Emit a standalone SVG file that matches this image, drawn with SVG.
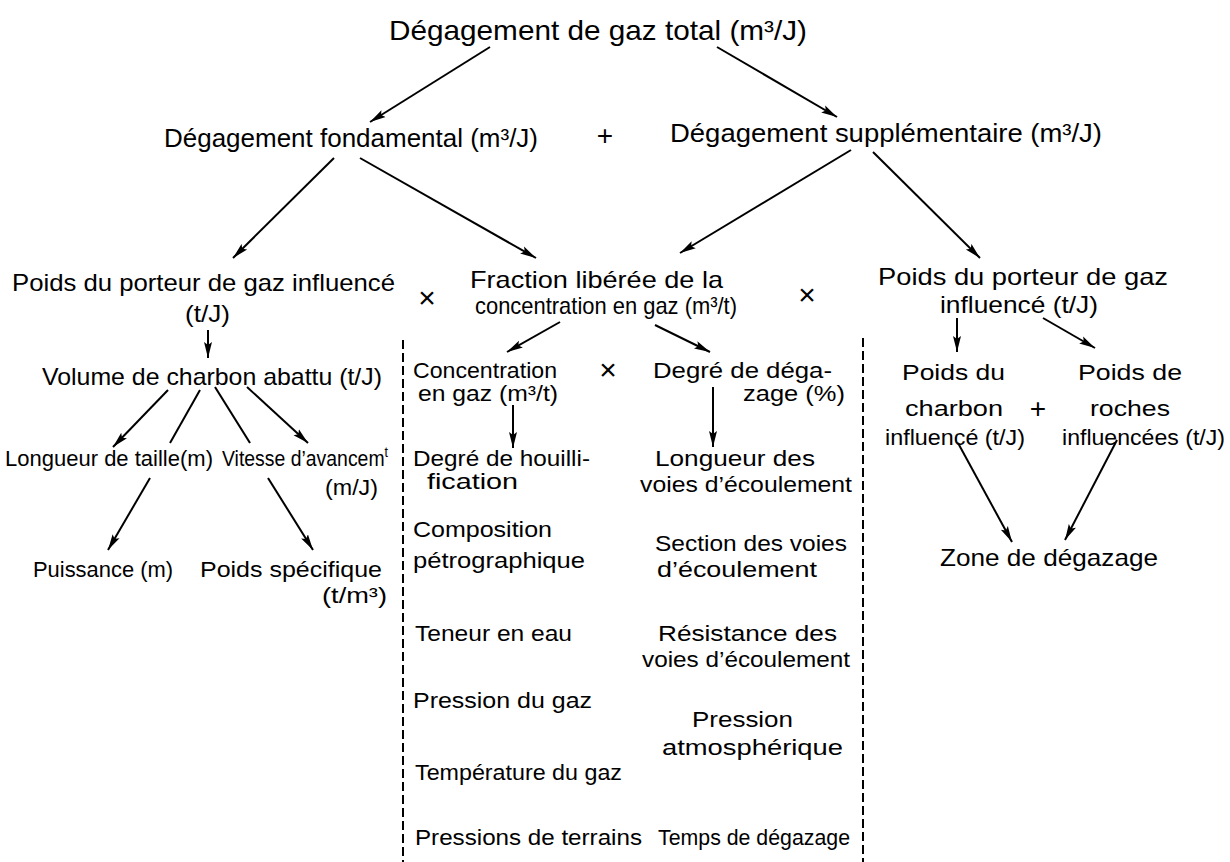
<svg xmlns="http://www.w3.org/2000/svg" width="1230" height="862" viewBox="0 0 1230 862">
<defs>
<style>
text{font-family:"Liberation Sans","DejaVu Sans",sans-serif;fill:#000}
.t0{font-size:28px}
.t1{font-size:26px}
.t2{font-size:24px}
.t3{font-size:22px}
.op{font-size:30px}
.c{stroke:#000;stroke-width:2;fill:none}
.a{marker-end:url(#ah)}
.d{stroke:#000;stroke-width:2;stroke-dasharray:9 4;fill:none}
</style>
<marker id="ah" markerUnits="userSpaceOnUse" markerWidth="18" markerHeight="10" refX="16" refY="5" orient="auto">
<path d="M0,1 L16,5 L0,9 L3,5 z" fill="#000"/>
</marker>
</defs>
<rect width="1230" height="862" fill="#fff"/>

<g id="connectors">
<line class="c a" x1="490" y1="47" x2="370" y2="122"/>
<line class="c a" x1="717" y1="47" x2="837" y2="117"/>
<line class="c a" x1="334" y1="158" x2="233" y2="258"/>
<line class="c a" x1="360" y1="158" x2="536" y2="258"/>
<line class="c a" x1="851" y1="150" x2="680" y2="253"/>
<line class="c a" x1="873" y1="152" x2="980" y2="258"/>
<line class="c a" x1="208" y1="330" x2="208" y2="358"/>
<line class="c a" x1="560" y1="322" x2="507" y2="352"/>
<line class="c a" x1="655" y1="325" x2="710" y2="352"/>
<line class="c a" x1="957" y1="318" x2="957" y2="352"/>
<line class="c a" x1="1043" y1="318" x2="1095" y2="348"/>
<line class="c a" x1="168" y1="390" x2="113" y2="447"/>
<line class="c" x1="200" y1="390" x2="170" y2="443"/>
<line class="c" x1="215" y1="387" x2="250" y2="443"/>
<line class="c a" x1="247" y1="387" x2="308" y2="443"/>
<line class="c a" x1="513" y1="405" x2="513" y2="448"/>
<line class="c a" x1="713" y1="387" x2="713" y2="447"/>
<line class="c a" x1="150" y1="478" x2="108" y2="550"/>
<line class="c a" x1="268" y1="478" x2="313" y2="550"/>
<line class="c a" x1="958" y1="443" x2="1012" y2="542"/>
<line class="c a" x1="1117" y1="440" x2="1065" y2="540"/>
<line class="d" x1="403" y1="340" x2="403" y2="862"/>
<line class="d" x1="863" y1="338" x2="863" y2="862"/>
</g>

<g id="n-total"><text class="t0" x="389" y="40" textLength="418" lengthAdjust="spacingAndGlyphs">Dégagement de gaz total (m³/J)</text></g>
<g id="n-fondamental"><text class="t1" x="164" y="147" textLength="374" lengthAdjust="spacingAndGlyphs">Dégagement fondamental (m³/J)</text></g>
<g id="op-plus1"><text class="t0" x="605" y="145" text-anchor="middle">+</text></g>
<g id="n-supplementaire"><text class="t1" x="670" y="142" textLength="432" lengthAdjust="spacingAndGlyphs">Dégagement supplémentaire (m³/J)</text></g>

<g id="n-poids1">
<text class="t2" x="12" y="291" textLength="383" lengthAdjust="spacingAndGlyphs">Poids du porteur de gaz influencé</text>
<text class="t2" x="185" y="322" textLength="45" lengthAdjust="spacingAndGlyphs">(t/J)</text>
</g>
<g id="op-x1"><text class="op" x="427" y="308" text-anchor="middle">×</text></g>
<g id="n-fraction">
<text class="t2" x="470" y="288" textLength="253" lengthAdjust="spacingAndGlyphs">Fraction libérée de la</text>
<text class="t2" x="475" y="314" textLength="262" lengthAdjust="spacingAndGlyphs">concentration en gaz (m³/t)</text>
</g>
<g id="op-x2"><text class="op" x="807" y="305" text-anchor="middle">×</text></g>
<g id="n-poids2">
<text class="t2" x="878" y="285" textLength="290" lengthAdjust="spacingAndGlyphs">Poids du porteur de gaz</text>
<text class="t2" x="940" y="313" textLength="158" lengthAdjust="spacingAndGlyphs">influencé (t/J)</text>
</g>

<g id="n-volume"><text class="t2" x="42" y="385" textLength="340" lengthAdjust="spacingAndGlyphs">Volume de charbon abattu (t/J)</text></g>
<g id="n-longueur"><text class="t3" x="5" y="466" textLength="208" lengthAdjust="spacingAndGlyphs">Longueur de taille(m)</text></g>
<g id="n-vitesse">
<text class="t3" x="222" y="466" textLength="166" lengthAdjust="spacingAndGlyphs">Vitesse d’avancem<tspan dy="-9" font-size="14">t</tspan></text>
<text class="t3" x="325" y="495" textLength="53" lengthAdjust="spacingAndGlyphs">(m/J)</text>
</g>
<g id="n-puissance"><text class="t3" x="33" y="577" textLength="140" lengthAdjust="spacingAndGlyphs">Puissance (m)</text></g>
<g id="n-poidsspec">
<text class="t3" x="200" y="577" textLength="182" lengthAdjust="spacingAndGlyphs">Poids spécifique</text>
<text class="t3" x="322" y="603" textLength="65" lengthAdjust="spacingAndGlyphs">(t/m³)</text>
</g>

<g id="n-concentration">
<text class="t3" x="413" y="378" textLength="144" lengthAdjust="spacingAndGlyphs">Concentration</text>
<text class="t3" x="418" y="401" textLength="140" lengthAdjust="spacingAndGlyphs">en gaz (m³/t)</text>
</g>
<g id="op-x3"><text class="op" x="608" y="380" text-anchor="middle">×</text></g>
<g id="n-degre">
<text class="t3" x="653" y="378" textLength="179" lengthAdjust="spacingAndGlyphs">Degré de déga-</text>
<text class="t3" x="743" y="401" textLength="102" lengthAdjust="spacingAndGlyphs">zage (%)</text>
</g>
<g id="n-houillification">
<text class="t3" x="413" y="466" textLength="177" lengthAdjust="spacingAndGlyphs">Degré de houilli-</text>
<text class="t3" x="427" y="489" textLength="91" lengthAdjust="spacingAndGlyphs">fication</text>
</g>
<g id="n-composition">
<text class="t3" x="413" y="537" textLength="139" lengthAdjust="spacingAndGlyphs">Composition</text>
<text class="t3" x="413" y="568" textLength="172" lengthAdjust="spacingAndGlyphs">pétrographique</text>
</g>
<g id="n-teneur"><text class="t3" x="415" y="641" textLength="157" lengthAdjust="spacingAndGlyphs">Teneur en eau</text></g>
<g id="n-pressiongaz"><text class="t3" x="413" y="708" textLength="179" lengthAdjust="spacingAndGlyphs">Pression du gaz</text></g>
<g id="n-temperature"><text class="t3" x="415" y="780" textLength="207" lengthAdjust="spacingAndGlyphs">Température du gaz</text></g>
<g id="n-terrains"><text class="t3" x="415" y="845" textLength="227" lengthAdjust="spacingAndGlyphs">Pressions de terrains</text></g>

<g id="n-longueurvoies">
<text class="t3" x="655" y="466" textLength="160" lengthAdjust="spacingAndGlyphs">Longueur des</text>
<text class="t3" x="640" y="492" textLength="212" lengthAdjust="spacingAndGlyphs">voies d’écoulement</text>
</g>
<g id="n-section">
<text class="t3" x="655" y="551" textLength="192" lengthAdjust="spacingAndGlyphs">Section des voies</text>
<text class="t3" x="657" y="577" textLength="160" lengthAdjust="spacingAndGlyphs">d’écoulement</text>
</g>
<g id="n-resistance">
<text class="t3" x="658" y="641" textLength="179" lengthAdjust="spacingAndGlyphs">Résistance des</text>
<text class="t3" x="642" y="667" textLength="208" lengthAdjust="spacingAndGlyphs">voies d’écoulement</text>
</g>
<g id="n-patm">
<text class="t3" x="692" y="727" textLength="101" lengthAdjust="spacingAndGlyphs">Pression</text>
<text class="t3" x="662" y="755" textLength="181" lengthAdjust="spacingAndGlyphs">atmosphérique</text>
</g>
<g id="n-temps"><text class="t3" x="658" y="845" textLength="192" lengthAdjust="spacingAndGlyphs">Temps de dégazage</text></g>

<g id="n-poidscharbon">
<text class="t3" x="902" y="380" textLength="103" lengthAdjust="spacingAndGlyphs">Poids du</text>
<text class="t3" x="905" y="416" textLength="98" lengthAdjust="spacingAndGlyphs">charbon</text>
<text class="t3" x="885" y="445" textLength="140" lengthAdjust="spacingAndGlyphs">influencé (t/J)</text>
</g>
<g id="op-plus2"><text class="t0" x="1038" y="418" text-anchor="middle">+</text></g>
<g id="n-poidsroches">
<text class="t3" x="1078" y="380" textLength="104" lengthAdjust="spacingAndGlyphs">Poids de</text>
<text class="t3" x="1090" y="416" textLength="80" lengthAdjust="spacingAndGlyphs">roches</text>
<text class="t3" x="1062" y="445" textLength="163" lengthAdjust="spacingAndGlyphs">influencées (t/J)</text>
</g>
<g id="n-zone"><text class="t2" x="940" y="566" textLength="218" lengthAdjust="spacingAndGlyphs">Zone de dégazage</text></g>
</svg>
